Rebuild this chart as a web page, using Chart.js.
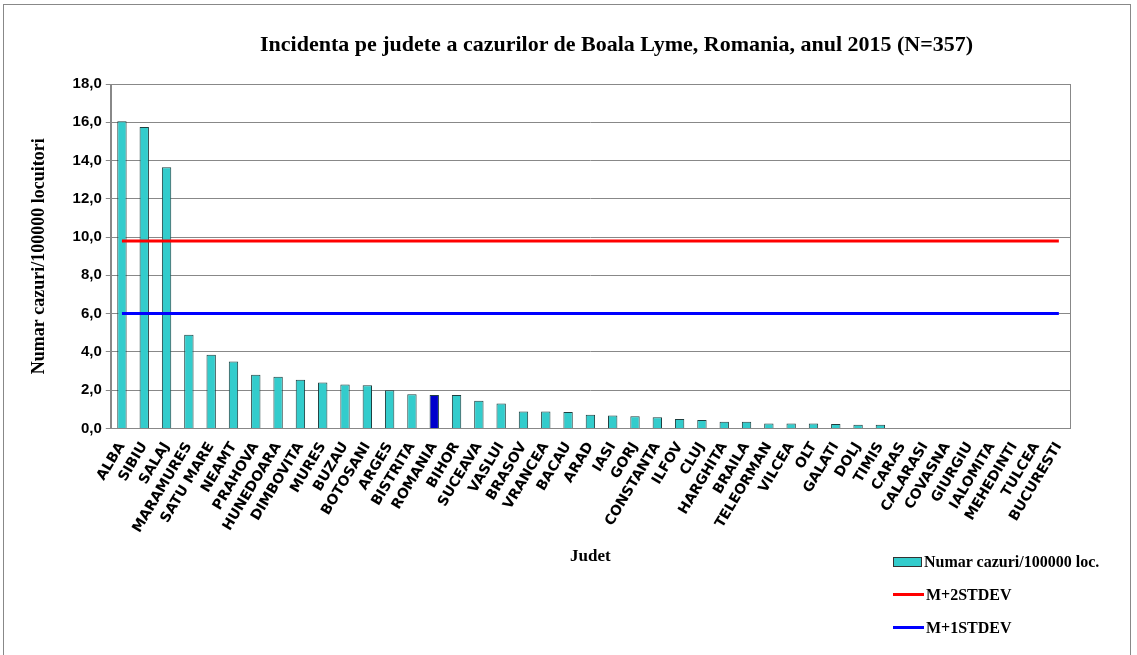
<!DOCTYPE html>
<html>
<head>
<meta charset="utf-8">
<script src="https://cdn.jsdelivr.net/npm/chart.js@4.4.1/dist/chart.umd.min.js"></script>
<style>
  html, body { margin: 0; padding: 0; background: #fff; }
  #wrap { position: relative; width: 1137px; height: 655px; }
  #frame { position: absolute; left: 3px; top: 4px; width: 1128px; height: 660px; border: 1px solid #888; box-sizing: border-box; }
  canvas { position: absolute; left: 0; top: 0; }
  #title { position: absolute; left: 260px; width: 700px; top: 31px; text-align: center; white-space: nowrap;
    font: bold 22px "Liberation Serif", serif; color: #000; }
  .leg { position: absolute; left: 893px; font: bold 16px "Liberation Serif", serif; color: #000; }
  .leg .row { display: flex; align-items: center; height: 33px; }
  .leg .box { width: 29px; height: 10px; background: #33cccc; border: 1px solid #333; box-sizing: border-box; margin-right: 2px; }
  .leg .ln { width: 31px; height: 3px; margin-right: 2px; }
</style>
</head>
<body>
<div id="wrap">
  <div id="frame"></div>
  <canvas id="c" width="1137" height="655"></canvas>
  <div id="title">Incidenta pe judete a cazurilor de Boala Lyme, Romania, anul 2015 (N=357)</div>
  <div class="leg" style="top:545px">
    <div class="row"><span class="box"></span>Numar cazuri/100000 loc.</div>
    <div class="row"><span class="ln" style="background:#ff0000"></span>M+2STDEV</div>
    <div class="row"><span class="ln" style="background:#0000ff"></span>M+1STDEV</div>
  </div>
</div>
<script>
// judete, sortate dupa incidenta
const JUDETE = ["ALBA", "SIBIU", "SALAJ", "MARAMURES", "SATU MARE", "NEAMT", "PRAHOVA", "HUNEDOARA",
  "DIMBOVITA", "MURES", "BUZAU", "BOTOSANI", "ARGES", "BISTRITA", "ROMANIA", "BIHOR", "SUCEAVA",
  "VASLUI", "BRASOV", "VRANCEA", "BACAU", "ARAD", "IASI", "GORJ", "CONSTANTA", "ILFOV", "CLUJ",
  "HARGHITA", "BRAILA", "TELEORMAN", "VILCEA", "OLT", "GALATI", "DOLJ", "TIMIS", "CARAS",
  "CALARASI", "COVASNA", "GIURGIU", "IALOMITA", "MEHEDINTI", "TULCEA", "BUCURESTI"];

// cazuri / 100000 locuitori
const INCIDENTA = [16.05, 15.75, 13.65, 4.9, 3.85, 3.5, 2.8, 2.7,
  2.55, 2.4, 2.3, 2.25, 2.0, 1.78, 1.75, 1.75, 1.44,
  1.3, 0.89, 0.89, 0.86, 0.72, 0.67, 0.63, 0.58, 0.49, 0.44,
  0.35, 0.35, 0.26, 0.26, 0.26, 0.23, 0.19, 0.19, 0,
  0, 0, 0, 0, 0, 0, 0];

const M_2STDEV = 9.8;
const M_1STDEV = 6.0;

const Y_TICKS = [0, 2, 4, 6, 8, 10, 12, 14, 16, 18];

const barColors = JUDETE.map((j) => (j === "ROMANIA" ? "#0000cc" : "#33cccc"));

// chenar complet in jurul zonei de grafic
const plotBorder = {
  id: "plotBorder",
  afterDraw(chart) {
    const { ctx, chartArea: a } = chart;
    ctx.save();
    ctx.strokeStyle = "#888";
    ctx.lineWidth = 1;
    ctx.strokeRect(Math.round(a.left) + 0.5, Math.round(a.top) + 0.5, Math.round(a.right - a.left), Math.round(a.bottom - a.top));
    ctx.restore();
  },
};

new Chart(document.getElementById("c"), {
  data: {
    labels: JUDETE,
    datasets: [
      {
        type: "line",
        label: "M+2STDEV",
        data: JUDETE.map(() => M_2STDEV),
        borderColor: "#ff0000",
        borderWidth: 3,
        pointRadius: 0,
        order: 0,
      },
      {
        type: "line",
        label: "M+1STDEV",
        data: JUDETE.map(() => M_1STDEV),
        borderColor: "#0000ff",
        borderWidth: 3,
        pointRadius: 0,
        order: 0,
      },
      {
        type: "bar",
        label: "Numar cazuri/100000 loc.",
        data: INCIDENTA,
        backgroundColor: barColors,
        borderColor: "#1f3f3f",
        borderWidth: 1,
        barPercentage: 0.42,
        categoryPercentage: 1,
        order: 1,
      },
    ],
  },
  options: {
    responsive: false,
    animation: false,
    layout: { padding: { left: 25, right: 67, top: 84, bottom: 84 } },
    plugins: {
      legend: { display: false },
      tooltip: { enabled: false },
      title: { display: false },
    },
    scales: {
      x: {
        grid: { display: false },
        border: { color: "#888" },
        ticks: {
          color: "#000",
          autoSkip: false,
          minRotation: 59,
          maxRotation: 59,
          font: { family: "'DejaVu Sans', sans-serif", size: 14, weight: "bold" },
        },
        title: {
          display: true,
          text: "Judet",
          color: "#000",
          font: { family: "'Liberation Serif', serif", size: 17, weight: "bold" },
          padding: { top: 8 },
        },
      },
      y: {
        min: 0,
        max: 18,
        afterBuildTicks: (axis) => { axis.ticks = Y_TICKS.map((v) => ({ value: v })); },
        grid: { color: "#888", drawTicks: true, tickLength: 5 },
        border: { color: "#888" },
        ticks: {
          color: "#000",
          padding: 4,
          font: { family: "'Liberation Sans', sans-serif", size: 15, weight: "bold" },
          callback: (v) => v.toFixed(1).replace(".", ","),
        },
        title: {
          display: true,
          text: "Numar cazuri/100000 locuitori",
          color: "#000",
          font: { family: "'Liberation Serif', serif", size: 18, weight: "bold" },
          padding: { bottom: 18 },
        },
      },
    },
  },
  plugins: [plotBorder],
});
</script>
</body>
</html>
